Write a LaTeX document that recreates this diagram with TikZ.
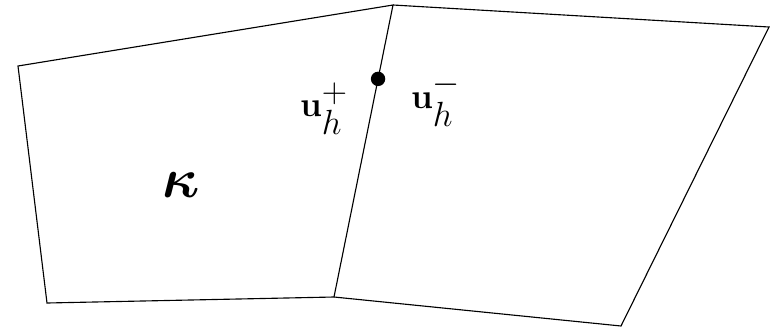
\documentclass[tikz,border=0pt]{standalone}
\usepackage{amsmath}
\usetikzlibrary{calc}
\begin{document}
\begin{tikzpicture}[edge/.style={line width=0.8pt},
    lab/.style={font=\fontsize{33}{38}\selectfont}]
        \useasboundingbox (0,0) rectangle (19.475,-8.275);
        % corners
        \coordinate (lt) at (0.45,-1.65);
        \coordinate (top) at (9.825,-0.125);
        \coordinate (rt) at (19.225,-0.675);
        \coordinate (rb) at (15.525,-8.15);
        \coordinate (mid) at (8.35,-7.425);
        \coordinate (lb) at (1.175,-7.575);
        % elements
        \draw [edge] (lt) -- (top) -- (mid) -- (lb) -- cycle;
        \draw [edge] (top) -- (rt) -- (rb) -- (mid);
        % point
        \node [circle, fill, inner sep=0pt, minimum size=0.36cm] (pt) at ($(top)!0.253!(mid)$) {};
        % labels
        \node [lab] (up) at (8.1,-2.72) {$\mathbf{u}_h^+$};
        \node [lab] (um) at (10.9,-2.5) {$\mathbf{u}_h^-$};
        \node [font=\fontsize{25}{30}\selectfont, scale=1.6] (k) at (4.52,-4.62) {$\boldsymbol{\kappa}$};
\end{tikzpicture}
\end{document}
